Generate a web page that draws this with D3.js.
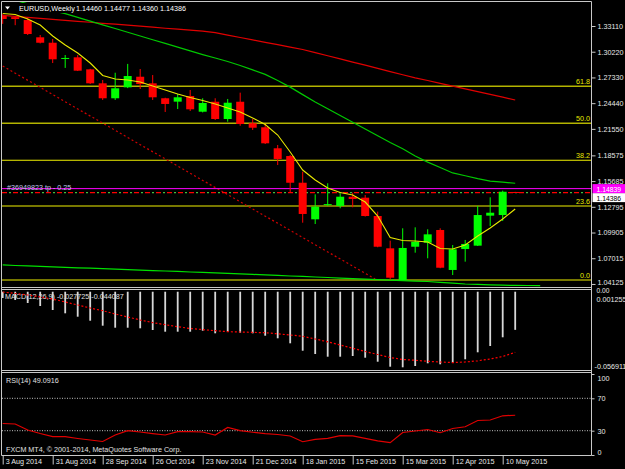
<!DOCTYPE html>
<html>
<head>
<meta charset="utf-8">
<script src="https://cdn.jsdelivr.net/npm/d3@7"></script>
<style>
  body { margin: 0; background: #000; }
  svg { display: block; }
  text { font-family: "Liberation Sans", Arial, sans-serif; font-size: 7.2px; }
</style>
</head>
<body>
<div id="chart"></div>
<script>
const width = 625;
const height = 469;

// 1 DATA  (weekly bars, 3 Aug 2014 .. 17 May 2015)

const dateLabels = ["3 Aug 2014", "31 Aug 2014", "28 Sep 2014", "26 Oct 2014", "23 Nov 2014",
  "21 Dec 2014", "18 Jan 2015", "15 Feb 2015", "15 Mar 2015", "12 Apr 2015", "10 May 2015"];

const opens = [1.3430, 1.3410, 1.3378, 1.3184, 1.3123, 1.2945, 1.2959, 1.2824, 1.2667, 1.2499,
  1.2622, 1.2741, 1.2667, 1.2499, 1.2461, 1.2524, 1.2348, 1.2460, 1.2266, 1.2460,
  1.2218, 1.2173, 1.1937, 1.1850, 1.1550, 1.1139, 1.1300, 1.1289, 1.1393, 1.1382,
  1.1176, 1.0813, 1.0457, 1.0831, 1.0876, 1.1019, 1.0570, 1.0805, 1.0843, 1.1180,
  1.1187, 1.14460];
const highs = [1.3445, 1.3420, 1.3401, 1.3210, 1.3165, 1.2985, 1.2985, 1.2830, 1.2704, 1.2786,
  1.2885, 1.2828, 1.2760, 1.2505, 1.2547, 1.2592, 1.2499, 1.2499, 1.2491, 1.2562,
  1.2266, 1.2210, 1.1974, 1.1862, 1.1674, 1.1420, 1.1544, 1.1431, 1.1438, 1.1412,
  1.1225, 1.0899, 1.1038, 1.1049, 1.1027, 1.1038, 1.0850, 1.0907, 1.1289, 1.1386,
  1.1461, 1.14477];
const lows = [1.3335, 1.3320, 1.3210, 1.3115, 1.2895, 1.2840, 1.2805, 1.2660, 1.2480, 1.2480,
  1.2613, 1.2603, 1.2480, 1.2345, 1.2378, 1.2356, 1.2340, 1.2255, 1.2236, 1.2190,
  1.2143, 1.1985, 1.1749, 1.1438, 1.1101, 1.1086, 1.1289, 1.1263, 1.1274, 1.1170,
  1.0825, 1.0457, 1.0450, 1.0764, 1.0701, 1.0589, 1.0513, 1.0663, 1.0839, 1.1064,
  1.1120, 1.14360];
const closes = [1.3390, 1.3390, 1.3221, 1.3123, 1.2937, 1.2952, 1.2809, 1.2667, 1.2499, 1.2611,
  1.2749, 1.2659, 1.2510, 1.2435, 1.2510, 1.2375, 1.2446, 1.2266, 1.2449, 1.2210,
  1.2168, 1.1993, 1.1817, 1.1550, 1.1199, 1.1281, 1.1310, 1.1393, 1.1367, 1.1176,
  1.0831, 1.0483, 1.0817, 1.0887, 1.0970, 1.0595, 1.0802, 1.0862, 1.1187, 1.1213,
  1.1449, 1.14386];

// moving averages
const maFast = [1.3451, 1.3440, 1.3390, 1.3322, 1.3199, 1.3098, 1.3008, 1.2895, 1.2755, 1.2715,
  1.2704, 1.2682, 1.2637, 1.2592, 1.2547, 1.2508, 1.2474, 1.2435, 1.2390, 1.2345,
  1.2277, 1.2204, 1.2086, 1.1895, 1.1693, 1.1581, 1.1491, 1.1440, 1.1412, 1.1333,
  1.1176, 1.0935, 1.0901, 1.0895, 1.0884, 1.0811, 1.0805, 1.0850, 1.0951, 1.1041,
  1.1142, 1.1255];
const maMid = [1.3637, 1.3600, 1.3560, 1.3522, 1.3484, 1.3450, 1.3408, 1.3366, 1.3324, 1.3283,
  1.3241, 1.3199, 1.3157, 1.3115, 1.3074, 1.3032, 1.2990, 1.2951, 1.2912, 1.2867,
  1.2818, 1.2767, 1.2698, 1.2624, 1.2540, 1.2458, 1.2381, 1.2305, 1.2229, 1.2153,
  1.2077, 1.2001, 1.1932, 1.1851, 1.1782, 1.1721, 1.1660, 1.1628, 1.1596, 1.1569,
  1.1556, 1.1544];
const maSlow = [1.3430, 1.3419, 1.3408, 1.3396, 1.3386, 1.3375, 1.3364, 1.3353, 1.3341, 1.3331,
  1.3320, 1.3309, 1.3298, 1.3286, 1.3275, 1.3265, 1.3254, 1.3236, 1.3209, 1.3182,
  1.3155, 1.3128, 1.3101, 1.3074, 1.3047, 1.3012, 1.2977, 1.2941, 1.2905, 1.2871,
  1.2835, 1.2799, 1.2763, 1.2729, 1.2699, 1.2667, 1.2636, 1.2604, 1.2574, 1.2542,
  1.2511, 1.2480];
// shifted long average, runs a couple of bars past the last candle
const maLong = [1.0626, 1.0620, 1.0616, 1.0610, 1.0605, 1.0600, 1.0594, 1.0590, 1.0584, 1.0579,
  1.0574, 1.0569, 1.0563, 1.0558, 1.0553, 1.0547, 1.0542, 1.0538, 1.0531, 1.0526,
  1.0520, 1.0514, 1.0508, 1.0502, 1.0497, 1.0491, 1.0485, 1.0479, 1.0473, 1.0468,
  1.0462, 1.0456, 1.0451, 1.0445, 1.0440, 1.0431, 1.0421, 1.0412, 1.0408, 1.0403,
  1.0399, 1.0396, 1.0395, 1.0393];

const macdMain = [-0.00456, -0.00602, -0.00820, -0.01038, -0.01329, -0.01569, -0.01816, -0.02107, -0.02470, -0.02616,
  -0.02616, -0.02659, -0.02783, -0.02906, -0.02906, -0.02906, -0.02834, -0.03023, -0.02906, -0.02979,
  -0.03023, -0.03197, -0.03386, -0.03750, -0.04288, -0.04528, -0.04724, -0.04724, -0.04673, -0.04797,
  -0.05088, -0.05451, -0.05495, -0.05400, -0.05204, -0.05277, -0.05160, -0.04913, -0.04404, -0.03946,
  -0.03313, -0.027725];
const macdSignal = [-0.00020, -0.00129, -0.00238, -0.00383, -0.00529, -0.00747, -0.00965, -0.01183, -0.01380, -0.01619,
  -0.01838, -0.02056, -0.02245, -0.02397, -0.02543, -0.02674, -0.02754, -0.02834, -0.02906, -0.02928,
  -0.02957, -0.02979, -0.03059, -0.03146, -0.03241, -0.03437, -0.03641, -0.03873, -0.04106, -0.04346,
  -0.04564, -0.04782, -0.04928, -0.04986, -0.05058, -0.05109, -0.05153, -0.05109, -0.05022, -0.04891,
  -0.04710, -0.044087];

const rsi = [38.9, 38.3, 30.9, 26.5, 22.8, 22.6, 20.4, 18.5, 16.7, 24.7,
  30.0, 28.4, 26.5, 24.7, 28.8, 28.8, 28.4, 24.7, 34.0, 30.0,
  28.1, 26.5, 25.3, 23.5, 16.4, 19.4, 20.6, 23.8, 23.5, 20.6,
  17.5, 15.2, 27.8, 29.6, 31.5, 27.5, 32.7, 34.9, 42.6, 43.2,
  48.4, 49.0916];

const priceTicks = [1.33110, 1.30220, 1.27330, 1.24440, 1.21550, 1.18575, 1.15685, 1.12795, 1.09905, 1.07015, 1.04125];
const fibLevels = [0, 23.6, 38.2, 50, 61.8];
const fibLow = 1.0457;
const fibHigh = 1.3980;
const trendPoints = [[0, 1.2862], [29.8, 1.0468]];
const orderPrice = 1.14839;
const bidPrice = 1.14386;
const rsiLevels = [70, 30];


// 2 SCALES

const left = 2;
const right = 591.5;

const xScale = d3.scaleLinear().domain([0, 47]).range([2.7, 2.7 + 12.5 * 47]);
const priceY = d3.scaleLinear().domain([1.03784, 1.35807]).range([287, 2]);
const macdY = d3.scaleLinear().domain([-0.056911, 0.001255]).range([370, 290]);
const rsiY = d3.scaleLinear().domain([0, 100]).range([455, 374]);


// 3 SVG + CLIPS

const svg = d3.select("#chart")
  .append("svg")
  .attr("width", width)
  .attr("height", height)
  .style("background", "#000");

const defs = svg.append("defs");
defs.append("clipPath").attr("id", "clipMain")
  .append("rect").attr("x", left).attr("y", 2).attr("width", right - left).attr("height", 285);
defs.append("clipPath").attr("id", "clipMacd")
  .append("rect").attr("x", left).attr("y", 290).attr("width", right - left).attr("height", 80);
defs.append("clipPath").attr("id", "clipRsi")
  .append("rect").attr("x", left).attr("y", 374).attr("width", right - left).attr("height", 81);

const main = svg.append("g").attr("clip-path", "url(#clipMain)");

const bars = d3.range(opens.length).map(i => ({
  i, o: opens[i], h: highs[i], l: lows[i], c: closes[i]
}));


// 4 MAIN PANEL

// fibonacci levels
fibLevels.forEach(lv => {
  const y = priceY(fibLow + (fibHigh - fibLow) * lv / 100);
  const dim = lv >= 50;
  main.append("line")
    .attr("x1", left).attr("x2", right)
    .attr("y1", y).attr("y2", y)
    .attr("stroke", dim ? "#b4b400" : "#f0f000")
    .attr("stroke-width", dim ? 1.6 : 1.1);
  svg.append("text")
    .attr("x", 590).attr("y", y - 2)
    .attr("text-anchor", "end")
    .attr("fill", "#e8e800")
    .text(lv.toFixed(1));
});

// trend line
main.append("line")
  .attr("x1", xScale(trendPoints[0][0])).attr("y1", priceY(trendPoints[0][1]))
  .attr("x2", xScale(trendPoints[1][0])).attr("y2", priceY(trendPoints[1][1]))
  .attr("stroke", "#d00000")
  .attr("stroke-width", 1.2)
  .attr("stroke-dasharray", "2,2.5");

// order line + bid line
main.append("line")
  .attr("x1", left).attr("x2", right)
  .attr("y1", priceY(orderPrice)).attr("y2", priceY(orderPrice))
  .attr("stroke", "#ff00ff");
main.append("line")
  .attr("x1", left).attr("x2", right)
  .attr("y1", priceY(bidPrice)).attr("y2", priceY(bidPrice))
  .attr("stroke", "#ff0000").attr("stroke-width", 1.3)
  .attr("stroke-dasharray", "5,6");
main.append("line")
  .attr("x1", left).attr("x2", right)
  .attr("y1", priceY(bidPrice)).attr("y2", priceY(bidPrice))
  .attr("stroke", "#40c040").attr("stroke-width", 1.3)
  .attr("stroke-dasharray", "2,9").attr("stroke-dashoffset", 4);

// candles
main.selectAll(".wick")
  .data(bars)
  .join("line")
  .attr("class", "wick")
  .attr("x1", d => xScale(d.i)).attr("x2", d => xScale(d.i))
  .attr("y1", d => priceY(d.h)).attr("y2", d => priceY(d.l))
  .attr("stroke", d => d.c >= d.o ? "#00ff00" : "#ff0000");

main.selectAll(".body")
  .data(bars)
  .join("rect")
  .attr("class", "body")
  .attr("x", d => xScale(d.i) - 4)
  .attr("width", 8)
  .attr("y", d => priceY(Math.max(d.o, d.c)))
  .attr("height", d => Math.max(1, priceY(Math.min(d.o, d.c)) - priceY(Math.max(d.o, d.c))))
  .attr("fill", d => d.c >= d.o ? "#00ff00" : "#ff0000");

// moving averages
const maLine = d3.line().x((d, i) => xScale(i)).y(d => priceY(d));

main.append("path").datum(maLong)
  .attr("d", maLine).attr("fill", "none").attr("stroke", "#00e000").attr("stroke-width", 1.2);
main.append("path").datum(maSlow)
  .attr("d", maLine).attr("fill", "none").attr("stroke", "#e00000").attr("stroke-width", 1.2);
main.append("path").datum(maMid)
  .attr("d", maLine).attr("fill", "none").attr("stroke", "#00c800").attr("stroke-width", 1.2);
main.append("path").datum(maFast)
  .attr("d", maLine).attr("fill", "none").attr("stroke", "#e8e800").attr("stroke-width", 1.1);

// header
svg.append("rect").attr("x", 3).attr("y", 3).attr("width", 186).attr("height", 10).attr("fill", "#000");
svg.append("path").attr("d", "M5,6.5 L10,6.5 L7.5,9.5 Z").attr("fill", "#fff");
svg.append("text").attr("x", 19).attr("y", 11).attr("fill", "#fff").text("EURUSD,Weekly");
svg.append("text").attr("x", 76).attr("y", 11).attr("fill", "#fff").text("1.14460 1.14477 1.14360 1.14386");

svg.append("text").attr("x", 7).attr("y", priceY(orderPrice) + 1.5)
  .attr("fill", "#c0c8e8").text("#36949823 tp - 0.25");


// 5 MACD PANEL

svg.append("text").attr("x", 5).attr("y", 298.5).attr("fill", "#e0e0e0")
  .text("MACD(12,26,9) -0.027725 -0.044087");

const macd = svg.append("g").attr("clip-path", "url(#clipMacd)");

macd.selectAll("rect")
  .data(macdMain)
  .join("rect")
  .attr("x", (d, i) => xScale(i) - 0.9)
  .attr("width", 1.8)
  .attr("y", d => Math.min(macdY(0), macdY(d)))
  .attr("height", d => Math.abs(macdY(d) - macdY(0)))
  .attr("fill", "#d8d8d8");

macd.append("path").datum(macdSignal)
  .attr("d", d3.line().x((d, i) => xScale(i)).y(d => macdY(d)))
  .attr("fill", "none")
  .attr("stroke", "#ff0000")
  .attr("stroke-width", 1.2)
  .attr("stroke-dasharray", "2,2");


// 6 RSI PANEL

svg.append("text").attr("x", 6).attr("y", 382.5).attr("fill", "#e0e0e0").text("RSI(14) 49.0916");

const rsiG = svg.append("g").attr("clip-path", "url(#clipRsi)");

rsiLevels.forEach(lv => {
  rsiG.append("line")
    .attr("x1", left).attr("x2", right)
    .attr("y1", rsiY(lv)).attr("y2", rsiY(lv))
    .attr("stroke", "#c0c0c0")
    .attr("stroke-dasharray", "1,1.5");
});

rsiG.append("path").datum(rsi)
  .attr("d", d3.line().x((d, i) => xScale(i)).y(d => rsiY(d)))
  .attr("fill", "none")
  .attr("stroke", "#e00000")
  .attr("stroke-width", 1.2);

svg.append("text").attr("x", 6).attr("y", 452).attr("fill", "#e0e0e0")
  .text("FXCM MT4, © 2001-2014, MetaQuotes Software Corp.");


// 7 FRAMES

const frame = "#c8c8c8";
[[left - 0.5, 1.5, right, 1.5], [left - 0.5, 287.5, right, 287.5], [left - 0.5, 289.5, right, 289.5],
 [left - 0.5, 370.5, right, 370.5], [left - 0.5, 372.5, right, 372.5], [left - 0.5, 455.5, right, 455.5],
 [left - 0.5, 1.5, left - 0.5, 455.5], [right, 1.5, right, 455.5]].forEach(s => {
  svg.append("line")
    .attr("x1", s[0]).attr("y1", s[1]).attr("x2", s[2]).attr("y2", s[3])
    .attr("stroke", frame);
});


// 8 AXES

const styleAxis = g => {
  g.attr("font-family", null).attr("font-size", null);
  g.select(".domain").remove();
  g.selectAll("line").attr("stroke", frame);
  g.selectAll("text").attr("fill", "#e8e8e8");
};

svg.append("g")
  .attr("transform", `translate(${right},0)`)
  .call(d3.axisRight(priceY).tickValues(priceTicks).tickFormat(d3.format(".5f")).tickSize(4).tickPadding(2))
  .call(styleAxis)
  .call(g => g.selectAll(".tick text").attr("dy", d => d === 1.04125 ? "0.1em" : "0.32em"));

// price tags on the right: bid tag sits just under the order tag
const tagY = priceY(orderPrice);
svg.append("rect").attr("x", right + 1).attr("y", tagY + 4.5).attr("width", 33).attr("height", 9).attr("fill", "#fff");
svg.append("text").attr("x", right + 5).attr("y", tagY + 12).attr("fill", "#000")
  .style("font-size", "6.8px").text(d3.format(".5f")(bidPrice));
svg.append("rect").attr("x", right + 1).attr("y", tagY - 4.5).attr("width", 33).attr("height", 9).attr("fill", "#ff00ff");
svg.append("text").attr("x", right + 5).attr("y", tagY + 3.2).attr("fill", "#fff")
  .style("font-size", "6.8px").text(d3.format(".5f")(orderPrice));

// MACD scale labels
svg.append("text").attr("x", right + 5).attr("y", 292.8).attr("fill", "#e8e8e8").style("font-size", "6.6px").text("0.00");
svg.append("text").attr("x", right + 5).attr("y", 301.5).attr("fill", "#e8e8e8").text("0.001255");
svg.append("text").attr("x", right + 3).attr("y", 368.5).attr("fill", "#e8e8e8").text("-0.056911");

// RSI scale
svg.append("g")
  .attr("transform", `translate(${right},0)`)
  .call(d3.axisRight(rsiY).tickValues([100, 70, 30, 0]).tickSize(3).tickPadding(3))
  .call(styleAxis)
  .call(g => g.selectAll(".tick text")
    .attr("dy", d => d === 100 ? "0.9em" : d === 0 ? "-0.1em" : "0.32em"));

// date axis
svg.append("g")
  .attr("transform", "translate(0,455.5)")
  .call(d3.axisBottom(xScale).tickValues(d3.range(0, 41, 4)).tickFormat((d, k) => dateLabels[k]).tickSize(9))
  .call(styleAxis)
  .call(g => g.selectAll(".tick text")
    .attr("text-anchor", "start")
    .attr("x", 2.5)
    .attr("y", 8.5)
    .attr("dy", 0));

</script>
</body>
</html>
